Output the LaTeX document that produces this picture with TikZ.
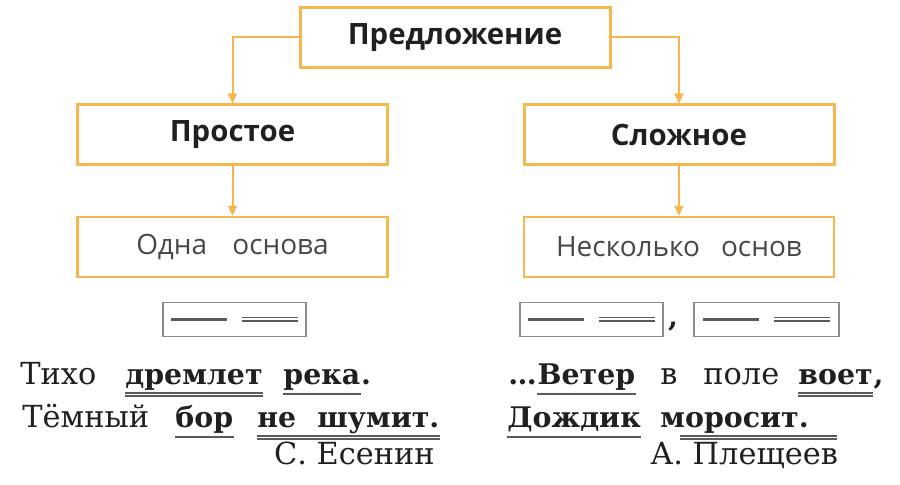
\documentclass[tikz,border=0pt]{standalone}
\usepackage{fontspec}
\setmainfont{DejaVu Serif}
\newfontfamily\headfont{Open Sans}
\usetikzlibrary{arrows.meta}
\usepackage{xcolor}
\definecolor{schemeorange}{RGB}{248,182,78}
\definecolor{inkdark}{RGB}{35,31,32}
\definecolor{inkgray}{RGB}{72,72,72}
\definecolor{linegray}{RGB}{90,90,90}
\definecolor{framegray}{RGB}{140,140,140}
\newcommand{\subjline}[2]{\draw[uline, line width=1pt] ([yshift=-4.6pt]#1) -- ([yshift=-4.6pt]#2);}
\newcommand{\predline}[2]{%
  \draw[uline] ([yshift=-3.9pt]#1) -- ([yshift=-3.9pt]#2);
  \draw[uline] ([yshift=-5.5pt]#1) -- ([yshift=-5.5pt]#2);}

\begin{document}
\begin{tikzpicture}[x=0.5pt,y=-0.5pt]
    \tikzstyle{head box}=[draw=schemeorange, line width=1.5pt, minimum width=155pt, minimum height=30pt, font=\headfont\bfseries\fontsize{14.7}{16}\selectfont, text=inkdark]
    \tikzstyle{base box}=[head box, line width=1.2pt, font=\headfont\fontsize{14}{16}\selectfont, text=inkgray]
    \tikzstyle{scheme}=[draw=framegray, line width=0.8pt, minimum width=71.5pt, minimum height=17pt, inner sep=0pt]
    \tikzstyle{word}=[inner sep=0pt, anchor=base west, font=\fontsize{15.2}{17}\selectfont, text=inkdark]
    \tikzstyle{key word}=[word, font=\bfseries\fontsize{14.2}{16}\selectfont]
    \tikzstyle{link}=[draw=schemeorange, line width=1pt, -{Triangle[length=5pt,width=4.5pt]}]
    \tikzstyle{uline}=[draw=linegray, line width=0.8pt]

    \useasboundingbox (0,0) rectangle (900,485);

    % boxes
    \node[head box] (top) at (455,37.5) {Предложение};
    \node[head box] (simple) at (232.5,135) {Простое};
    \node[head box] (cmpd) at (679,135) {Сложное};
    \node[base box] (one) at (232.5,247) {Одна\hspace{0.9em}основа};
    \node[base box] (many) at (679,247) {Несколько\hspace{0.75em}основ};

    \draw[link] (top.west) -| (simple.north);
    \draw[link] (top.east) -| (cmpd.north);
    \draw[link] (simple) -- (one);
    \draw[link] (cmpd) -- (many);

    % schemes
    \node[scheme] (s-1) at (234.5,319.5) {};
    \node[scheme] (s-2) at (591.5,319.5) {};
    \node[key word, anchor=base] (comma) at (673,327) {,};
    \node[scheme, minimum width=72.5pt] (s-3) at (766.5,319.5) {};
    \foreach \s in {s-1,s-2,s-3} {
        \draw[uline, line width=1.1pt] ([xshift=-31.75pt]\s.center) -- ([xshift=-3.75pt]\s.center);
        \draw[uline] ([xshift=3.75pt,yshift=0.9pt]\s.center) -- ([xshift=31.75pt,yshift=0.9pt]\s.center);
        \draw[uline] ([xshift=3.75pt,yshift=-0.9pt]\s.center) -- ([xshift=31.75pt,yshift=-0.9pt]\s.center);
    }

    % Esenin
    \node[word] (tiho) at (20,385) {Тихо};
    \node[key word] (dreml) at (125,385) {дремлет};
    \node[key word] (reka) at (283,385) {река};
    \node[key word] (dot-1) at (reka.base east) {.};
    \node[word] (temn) at (22,428) {Тёмный};
    \node[key word] (bor) at (175,428) {бор};
    \node[key word] (ne) at (257,428) {не};
    \node[key word] (shum) at (317,428) {шумит.};
    \node[word, anchor=base east] (esenin) at (435,465) {С. Есенин};

    \predline{dreml.base west}{dreml.base east}
    \subjline{reka.base west}{reka.base east}
    \subjline{bor.base west}{bor.base east}
    \predline{ne.base west}{shum.base east}

    % Pleshcheev
    \node[key word] (dots) at (508,385) {…};
    \node[key word] (veter) at (dots.base east) {Ветер};
    \node[word] (v) at (660,385) {в};
    \node[word] (pole) at (703,385) {поле};
    \node[key word] (voet) at (798,385) {воет};
    \node[key word] (comma-1) at (voet.base east) {,};
    \node[key word] (dozhd) at (507,428) {Дождик};
    \node[key word] (moros) at (660,428) {моросит.};
    \node[word] (pleshch) at (650,465) {А. Плещеев};

    \coordinate (m-s) at ([xshift=10pt]moros.base west);
    \coordinate (m-e) at ([xshift=14pt]moros.base east);
    \subjline{veter.base west}{veter.base east}
    \predline{voet.base west}{voet.base east}
    \subjline{dozhd.base west}{dozhd.base east}
    \predline{m-s}{m-e}
\end{tikzpicture}
\end{document}
